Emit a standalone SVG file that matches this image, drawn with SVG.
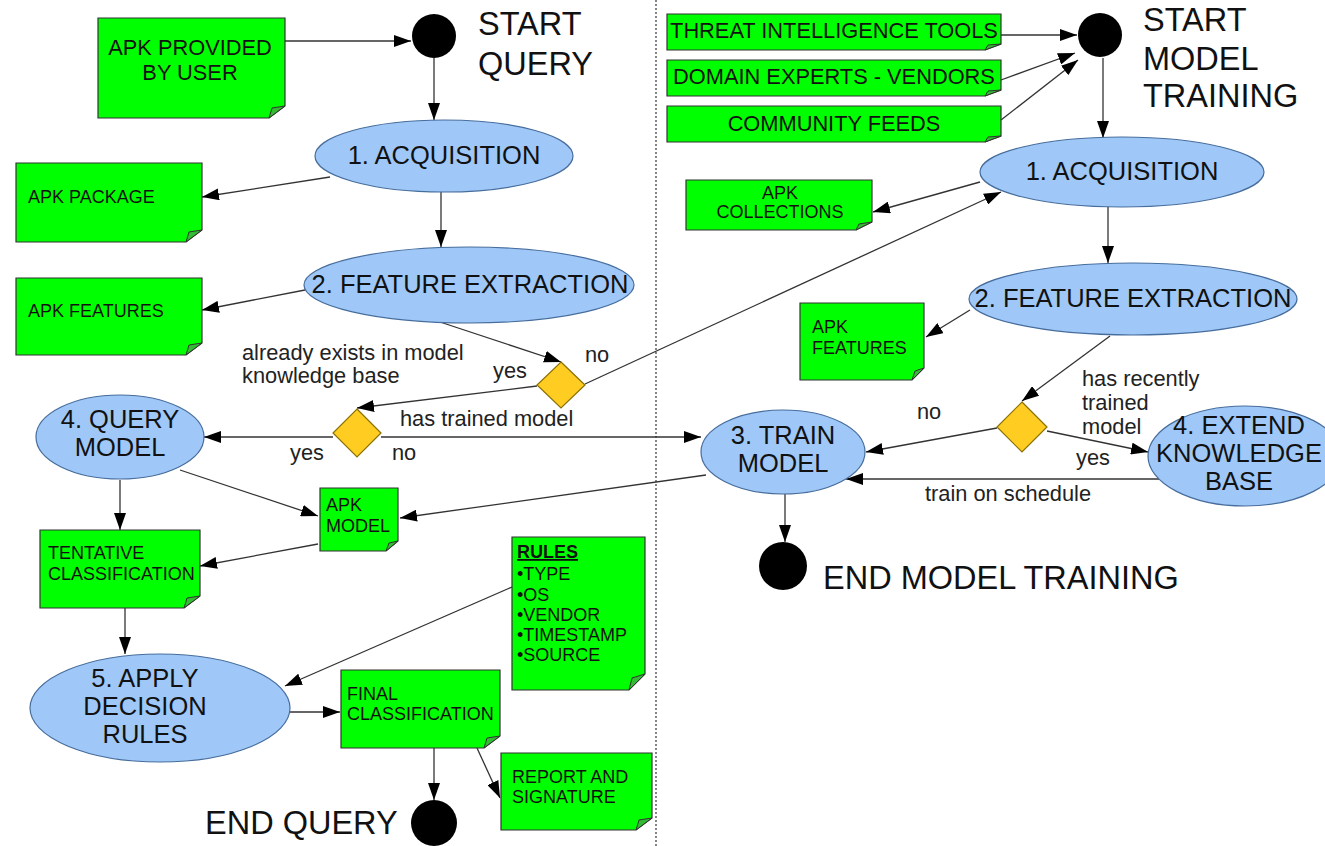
<svg xmlns="http://www.w3.org/2000/svg" width="1325" height="846" viewBox="0 0 1325 846">
<style>
text{font-family:"Liberation Sans",Arial,sans-serif;fill:#111}
.note{fill:#00ff00;stroke:#333;stroke-width:1.2}
.fold{fill:#33bb33;stroke:#333;stroke-width:1}
.ell{fill:#9fc8f8;stroke:#466d9c;stroke-width:1.2}
.dia{fill:#ffcc22;stroke:#8a7000;stroke-width:1.2}
.dot{fill:#000}
.et{font-size:25.5px;text-anchor:middle}
.big{font-size:32.5px}
.nt{font-size:21.8px}
.ns{font-size:18px}
.lbl{font-size:21.8px;fill:#222}
.c path{fill:none;stroke:#333;stroke-width:1.3;marker-end:url(#ah)}
</style>
<defs>
<marker id="ah" markerUnits="userSpaceOnUse" markerWidth="17" markerHeight="12" refX="17" refY="6" orient="auto">
<path d="M0,0 L17,6 L0,12 z" fill="#000"/>
</marker>
</defs>
<rect width="1325" height="846" fill="#fff"/>
<line x1="656" y1="0" x2="656" y2="846" stroke="#333" stroke-width="1.2" stroke-dasharray="2,2"/>

<g class="c" id="connectors">
<path d="M285,41 L411,41"/>
<path d="M434,58 L434,120"/>
<path d="M330,177 L202,197"/>
<path d="M441,192 L441,247"/>
<path d="M305,290 L202,310"/>
<path d="M440,322 L561,362"/>
<path d="M585,384 L1001,192"/>
<path d="M537,386 L357,408"/>
<path d="M333,437 L204,437"/>
<path d="M381,437 L701,437"/>
<path d="M180,470 L318,516"/>
<path d="M706,475 L400,518"/>
<path d="M120,480 L120,530"/>
<path d="M318,544 L200,566"/>
<path d="M125,608 L125,654"/>
<path d="M512,587 L285,686"/>
<path d="M290,712 L340,712"/>
<path d="M434,748 L434,800"/>
<path d="M477,748 L500,798"/>
<path d="M1001,35 L1077,35"/>
<path d="M1001,80 L1075,53"/>
<path d="M1001,120 L1078,60"/>
<path d="M1103,58 L1103,138"/>
<path d="M980,182 L873,212"/>
<path d="M1108,206 L1108,263"/>
<path d="M970,310 L926,337"/>
<path d="M1110,336 L1022,401"/>
<path d="M997,428 L866,452"/>
<path d="M1047,431 L1148,452"/>
<path d="M1168,479 L846,479"/>
<path d="M785,494 L785,542"/>
</g>

<g id="start-query">
<circle class="dot" cx="434" cy="36" r="22"/>
<text class="big" x="478" y="35">START</text>
<text class="big" x="478" y="75">QUERY</text>
</g>
<g id="apk-provided">
<polygon class="note" points="98,18 285,18 285,106 269,118 98,118"/>
<polygon class="fold" points="285,106 269,118 272,108"/>
<text class="nt" x="190" y="55" text-anchor="middle">APK PROVIDED</text>
<text class="nt" x="190" y="80" text-anchor="middle">BY USER</text>
</g>
<g id="acq-left">
<ellipse class="ell" cx="444" cy="156" rx="129" ry="36"/>
<text class="et" x="444" y="164">1. ACQUISITION</text>
</g>
<g id="apk-package">
<polygon class="note" points="16,163 202,163 202,230 186,242 16,242"/>
<polygon class="fold" points="202,230 186,242 189,232"/>
<text class="ns" x="28" y="203">APK PACKAGE</text>
</g>
<g id="fe-left">
<ellipse class="ell" cx="469" cy="285" rx="165" ry="38"/>
<text class="et" x="470" y="293">2. FEATURE EXTRACTION</text>
</g>
<g id="apk-features-left">
<polygon class="note" points="16,278 202,278 202,343 186,355 16,355"/>
<polygon class="fold" points="202,343 186,355 189,345"/>
<text class="ns" x="28" y="317">APK FEATURES</text>
</g>
<g id="dec-exists">
<polygon class="dia" points="561,362 585,385 561,408 537,385"/>
</g>
<g id="labels-left">
<text class="lbl" x="242" y="360">already exists in model</text>
<text class="lbl" x="242" y="383">knowledge base</text>
<text class="lbl" x="493" y="378">yes</text>
<text class="lbl" x="585" y="362">no</text>
<text class="lbl" x="400" y="426">has trained model</text>
<text class="lbl" x="290" y="460">yes</text>
<text class="lbl" x="392" y="460">no</text>
</g>
<g id="dec-trained">
<polygon class="dia" points="357,409 381,433 357,457 333,433"/>
</g>
<g id="query-model">
<ellipse class="ell" cx="120" cy="437" rx="84" ry="42"/>
<text class="et" x="120" y="428">4. QUERY</text>
<text class="et" x="120" y="456">MODEL</text>
</g>
<g id="apk-model">
<polygon class="note" points="320,488 398,488 398,541 386,551 320,551"/>
<polygon class="fold" points="398,541 386,551 389,543"/>
<text class="ns" x="326" y="511">APK</text>
<text class="ns" x="326" y="532">MODEL</text>
</g>
<g id="tentative">
<polygon class="note" points="40,530 200,530 200,596 184,608 40,608"/>
<polygon class="fold" points="200,596 184,608 187,598"/>
<text class="ns" x="48" y="559">TENTATIVE</text>
<text class="ns" x="48" y="580">CLASSIFICATION</text>
</g>
<g id="apply-rules">
<ellipse class="ell" cx="160" cy="708" rx="130" ry="54"/>
<text class="et" x="145" y="687">5. APPLY</text>
<text class="et" x="145" y="715">DECISION</text>
<text class="et" x="145" y="743">RULES</text>
</g>
<g id="rules">
<polygon class="note" points="512,537 645,537 645,674 629,690 512,690"/>
<polygon class="fold" points="645,674 629,690 632,678"/>
<text class="ns" x="517" y="558" font-weight="bold" text-decoration="underline">RULES</text>
<text class="ns" x="517" y="580">•TYPE</text>
<text class="ns" x="517" y="601">•OS</text>
<text class="ns" x="517" y="621">•VENDOR</text>
<text class="ns" x="517" y="641">•TIMESTAMP</text>
<text class="ns" x="517" y="661">•SOURCE</text>
</g>
<g id="final">
<polygon class="note" points="341,670 500,670 500,736 484,748 341,748"/>
<polygon class="fold" points="500,736 484,748 487,738"/>
<text class="ns" x="347" y="700">FINAL</text>
<text class="ns" x="347" y="720">CLASSIFICATION</text>
</g>
<g id="end-query">
<circle class="dot" cx="434" cy="823" r="23"/>
<text class="big" x="205" y="834">END QUERY</text>
</g>
<g id="report">
<polygon class="note" points="501,753 652,753 652,818 636,830 501,830"/>
<polygon class="fold" points="652,818 636,830 639,820"/>
<text class="ns" x="512" y="783">REPORT AND</text>
<text class="ns" x="512" y="803">SIGNATURE</text>
</g>

<g id="start-training">
<circle class="dot" cx="1100" cy="35" r="22"/>
<text class="big" x="1143" y="31">START</text>
<text class="big" x="1143" y="70">MODEL</text>
<text class="big" x="1143" y="107">TRAINING</text>
</g>
<g id="threat">
<polygon class="note" points="667,14 1001,14 1001,44 985,50 667,50"/>
<polygon class="fold" points="1001,44 985,50 988,45"/>
<text class="nt" x="834" y="38" text-anchor="middle">THREAT INTELLIGENCE TOOLS</text>
</g>
<g id="domain">
<polygon class="note" points="667,60 1001,60 1001,90 985,96 667,96"/>
<polygon class="fold" points="1001,90 985,96 988,91"/>
<text class="nt" x="834" y="84" text-anchor="middle">DOMAIN EXPERTS - VENDORS</text>
</g>
<g id="community">
<polygon class="note" points="667,106 1001,106 1001,136 985,142 667,142"/>
<polygon class="fold" points="1001,136 985,142 988,137"/>
<text class="nt" x="834" y="131" text-anchor="middle">COMMUNITY FEEDS</text>
</g>
<g id="acq-right">
<ellipse class="ell" cx="1122" cy="172" rx="142" ry="35"/>
<text class="et" x="1122" y="180">1. ACQUISITION</text>
</g>
<g id="apk-collections">
<polygon class="note" points="686,180 872,180 872,222 856,230 686,230"/>
<polygon class="fold" points="872,222 856,230 859,224"/>
<text class="ns" x="780" y="199" text-anchor="middle">APK</text>
<text class="ns" x="780" y="218" text-anchor="middle">COLLECTIONS</text>
</g>
<g id="fe-right">
<ellipse class="ell" cx="1133" cy="299" rx="164" ry="36"/>
<text class="et" x="1133" y="307">2. FEATURE EXTRACTION</text>
</g>
<g id="apk-features-right">
<polygon class="note" points="800,303 924,303 924,368 912,380 800,380"/>
<polygon class="fold" points="924,368 912,380 915,371"/>
<text class="ns" x="812" y="333">APK</text>
<text class="ns" x="812" y="354">FEATURES</text>
</g>
<g id="dec-recent">
<polygon class="dia" points="1022,402 1047,427 1022,452 997,427"/>
</g>
<g id="labels-right">
<text class="lbl" x="1082" y="386">has recently</text>
<text class="lbl" x="1082" y="410">trained</text>
<text class="lbl" x="1082" y="434">model</text>
<text class="lbl" x="917" y="419">no</text>
<text class="lbl" x="1076" y="465">yes</text>
<text class="lbl" x="925" y="501">train on schedule</text>
</g>
<g id="train-model">
<ellipse class="ell" cx="783" cy="452" rx="82" ry="42"/>
<text class="et" x="783" y="444">3. TRAIN</text>
<text class="et" x="783" y="472">MODEL</text>
</g>
<g id="extend-kb">
<ellipse class="ell" cx="1245" cy="456" rx="97" ry="50"/>
<text class="et" x="1239" y="434">4. EXTEND</text>
<text class="et" x="1239" y="462">KNOWLEDGE</text>
<text class="et" x="1239" y="490">BASE</text>
</g>
<g id="end-training">
<circle class="dot" cx="783" cy="566" r="24"/>
<text class="big" x="823" y="589">END MODEL TRAINING</text>
</g>
</svg>
